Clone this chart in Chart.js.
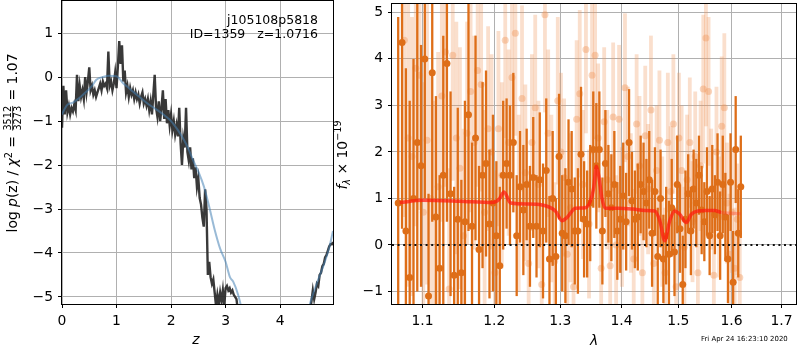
<!DOCTYPE html>
<html>
<head>
<meta charset="utf-8">
<script src="https://cdn.jsdelivr.net/npm/chart.js@4.4.0/dist/chart.umd.min.js"></script>
<style>
html, body { margin: 0; padding: 0; background: #fff; }
#wrap { position: relative; width: 800px; height: 350px; }
#pz { position: absolute; left: 0; top: 0; }
#spec { position: absolute; left: 334px; top: 0; }
</style>
</head>
<body>
<div id="wrap">
<canvas id="pz" width="340" height="350"></canvas>
<canvas id="spec" width="466" height="350"></canvas>
</div>
<script>
// ---- left panel: log p(z) ----
var zGrid = [
	0, 0.025, 0.05, 0.075, 0.1, 0.125, 0.15, 0.175, 0.2, 0.225,
	0.25, 0.275, 0.3, 0.325, 0.35, 0.375, 0.4, 0.425, 0.45, 0.475,
	0.5, 0.525, 0.55, 0.575, 0.6, 0.625, 0.65, 0.675, 0.7, 0.725,
	0.75, 0.775, 0.8, 0.825, 0.85, 0.875, 0.9, 0.925, 0.95, 0.975,
	1.0, 1.025, 1.05, 1.075, 1.1, 1.125, 1.15, 1.175, 1.2, 1.225,
	1.25, 1.275, 1.3, 1.325, 1.35, 1.375, 1.4, 1.425, 1.45, 1.475,
	1.5, 1.525, 1.55, 1.575, 1.6, 1.625, 1.65, 1.675, 1.7, 1.725,
	1.75, 1.775, 1.8, 1.825, 1.85, 1.875, 1.9, 1.925, 1.95, 1.975,
	2.0, 2.025, 2.05, 2.075, 2.1, 2.125, 2.15, 2.175, 2.2, 2.225,
	2.25, 2.275, 2.3, 2.325, 2.35, 2.375, 2.4, 2.425, 2.45, 2.475,
	2.5, 2.525, 2.55, 2.575, 2.6, 2.625, 2.65, 2.675, 2.7, 2.725,
	2.75, 2.775, 2.8, 2.825, 2.85, 2.875, 2.9, 2.925, 2.95, 2.975,
	3.0, 3.025, 3.05, 3.075, 3.1, 3.125, 3.15, 3.175, 3.2, 3.225,
	3.25, 3.5, 4.0, 4.5,
	4.55, 4.575, 4.6, 4.625, 4.65, 4.675, 4.7, 4.725, 4.75, 4.775,
	4.8, 4.825, 4.85, 4.875, 4.9, 4.925, 4.95, 4.97
];
var logpz = [
	-1.15, -0.2, -0.85, -0.3, -0.8, -0.65, -0.85, -0.7, -0.78, -0.62,
	-0.75, 0.05, -0.55, -0.2, -0.45, -0.3, -0.5, 0.0, -0.35, -0.1,
	0.22, -0.3, -0.2, -0.4, -0.3, -0.45, -0.35, -0.25, -0.15, -0.3,
	-0.1, -0.2, -0.15, -0.25, 0.58, -0.2, -0.1, -0.3, -0.15, 0.1,
	-0.25, 0.25, 0.82, 0.3, 0.72, -0.1, 0.15, -0.35, -0.2, -0.45,
	-0.25, -0.4, -0.3, -0.5, -0.35, -0.5, -0.4, -0.6, -0.45, -0.35,
	-0.6, -0.5, -0.65, -0.5, -0.75, -0.55, -0.85, -0.4, 0.05, -0.7,
	-0.9, -0.55, -1.0, -0.7, -0.3, -0.95, -0.5, -1.05, -0.75, -1.1,
	-0.85, -1.2, -1.0, -1.3, -1.1, -1.35, -0.7, -1.5, -2.0, -1.4,
	-1.6, -0.7, -1.7, -1.9, -1.6, -2.1, -1.85, -2.3, -2.05, -2.5,
	-2.3, -2.75, -2.9, -3.2, -3.4, -2.55, -3.0, -4.5, -4.2, -4.55,
	-4.7, -4.6, -4.9, -5.2, -4.95, -5.15, -4.9, -5.1, -4.85, -5.2,
	-4.8, -4.75, -4.85, -4.8, -4.9, -4.85, -4.95, -5.0, -5.05, -5.3,
	-5.8, -8, -9, -6,
	-5.3, -5.1, -4.85, -5.05, -4.9, -4.7, -4.75, -4.5, -4.45, -4.3,
	-4.25, -4.1, -4.05, -3.95, -3.85, -3.8, -3.8, -3.75
];
var zTemplate = [0, 0.05, 0.11, 0.2, 0.26, 0.35, 0.45, 0.55, 0.63, 0.75, 0.87, 1.0, 1.12, 1.2, 1.3, 1.45, 1.6, 1.75, 1.91, 2.0,
	2.1, 2.2, 2.3, 2.4, 2.5, 2.6, 2.7, 2.8, 2.9, 3.0, 3.08, 3.14, 3.23, 3.3, 3.6, 4.0, 4.3, 4.55, 4.6, 4.7, 4.8, 4.9, 4.97];
var logpzTemplate = [-0.85, -0.72, -0.62, -0.58, -0.53, -0.44, -0.33, -0.2, -0.06, 0.0, 0.03, 0.02, -0.14, -0.22, -0.33, -0.48, -0.63, -0.75, -0.9, -1.0,
	-1.16, -1.35, -1.58, -1.88, -2.15, -2.48, -2.95, -3.47, -3.9, -4.2, -4.55, -4.65, -4.95, -5.3, -7, -8, -7, -5.15, -4.95, -4.6, -4.27, -3.88, -3.5];
var zTicks = [0, 1, 2, 3, 4];
var pzTicks = [-5, -4, -3, -2, -1, 0, 1];

// ---- right panel: spectrum ----
var specWave = [
	1.068, 1.073, 1.078, 1.083, 1.088, 1.093, 1.098, 1.103, 1.108, 1.113,
	1.118, 1.123, 1.128, 1.133, 1.138, 1.143, 1.148, 1.153, 1.158, 1.163,
	1.168, 1.173, 1.178, 1.183, 1.188, 1.193, 1.198, 1.203, 1.208, 1.213,
	1.218, 1.223, 1.228, 1.233, 1.238, 1.243, 1.248, 1.253, 1.258, 1.263,
	1.268, 1.273, 1.278, 1.283, 1.288, 1.293, 1.298, 1.303, 1.308, 1.313,
	1.318, 1.323, 1.328, 1.333, 1.338, 1.343, 1.348, 1.353, 1.358, 1.363,
	1.368, 1.373, 1.378, 1.383, 1.388, 1.393, 1.398, 1.403, 1.408, 1.413,
	1.418, 1.423, 1.428, 1.433, 1.438, 1.443, 1.448, 1.453, 1.458, 1.463,
	1.468, 1.473, 1.478, 1.483, 1.488, 1.493, 1.498, 1.503, 1.508, 1.513,
	1.518, 1.523, 1.528, 1.533, 1.538, 1.543, 1.548, 1.553, 1.558, 1.563,
	1.568, 1.573, 1.578, 1.583, 1.588, 1.593, 1.598, 1.603, 1.608, 1.613,
	1.618
];
var specFlux = [
	0.9, 4.35, 0.3, -0.7, 1.0, 2.2, 1.7, 4.0, -1.1, 3.7,
	0.6, -0.5, 1.5, 3.9, 1.1, -0.65, 0.55, -0.6, 0.5, 2.8,
	0.4, 2.3, -0.1, 1.5, 1.75, 0.45, 0.9, 0.2, -0.45, 1.5,
	1.75, 1.5, 2.2, 0.2, 1.25, 0.75, 1.3, 0.4, 1.45, 0.4,
	1.4, 0.3, 1.6, -0.3, 1.0, -0.25, 1.9, 0.25, 0.2, 1.35,
	1.2, 0.3, 0.3, 1.95, 0.55, 0.45, 0.9, 2.05, 1.7, 2.05,
	0.3, 1.75, 1.1, 0.8, 1.3, 0.3, 0.55, 1.05, 0.5, 2.2,
	0.95, 0.55, 0.6, 1.3, 1.15, 0.9, 1.4, 0.25, 1.15, -0.25,
	1.0, -0.3, 0.2, -0.2, 0.8, -0.15, 1.3, 0.35, -0.85, 0.55,
	1.1, 0.3, 1.2, 0.9, 1.5, 0.75, 0.5, 1.15, 0.2, 1.2,
	0.65, 1.35, 0.2, 1.3, 0.6, -0.3, 1.35, -0.8, 2.05, 0.25,
	1.25
];
var specErr = [
	4.0, 4.0, 3.5, 3.8, 3.0, 3.2, 2.6, 3.0, 2.2, 3.2,
	2.6, 2.0, 3.0, 3.4, 2.2, 1.9, 2.4, 2.0, 2.6, 2.5,
	1.8, 2.2, 1.8, 2.0, 2.0, 1.6, 1.9, 1.6, 1.7, 1.6,
	1.4, 1.5, 1.5, 1.3, 1.2, 1.4, 1.2, 1.3, 1.3, 1.1,
	1.45, 1.45, 1.55, 1.35, 1.45, 1.25, 1.35, 1.25, 1.45, 1.35,
	1.25, 1.15, 1.35, 1.45, 1.25, 1.15, 1.25, 1.25, 1.35, 1.25,
	1.15, 1.15, 1.05, 1.15, 1.15, 1.05, 1.15, 1.15, 1.05, 1.15,
	1.05, 1.05, 1.15, 1.05, 1.05, 0.95, 1.05, 1.15, 0.95, 1.05,
	1.05, 0.95, 1.05, 1.15, 1.05, 0.95, 1.05, 0.95, 1.05, 1.05,
	0.85, 0.95, 0.85, 0.95, 0.85, 0.95, 0.85, 0.95, 0.85, 0.95,
	0.85, 1.05, 0.95, 1.05, 0.95, 0.95, 1.05, 1.1, 1.15, 0.95,
	1.1
];
var spec2Wave = [
	1.076, 1.081, 1.086, 1.091, 1.096, 1.101, 1.106, 1.111, 1.116, 1.121,
	1.126, 1.131, 1.136, 1.141, 1.146, 1.151, 1.156, 1.161, 1.166, 1.171,
	1.176, 1.181, 1.186, 1.191, 1.196, 1.201, 1.206, 1.211, 1.216, 1.221,
	1.226, 1.231, 1.236, 1.241, 1.246, 1.251, 1.256, 1.261, 1.266, 1.271,
	1.276, 1.281, 1.286, 1.291, 1.296, 1.301, 1.306, 1.311, 1.316, 1.321,
	1.326, 1.331, 1.336, 1.341, 1.346, 1.351, 1.356, 1.361, 1.366, 1.371,
	1.376, 1.381, 1.386, 1.391, 1.396, 1.401, 1.406, 1.411, 1.416, 1.421,
	1.426, 1.431, 1.436, 1.441, 1.446, 1.451, 1.456, 1.461, 1.466, 1.471,
	1.476, 1.481, 1.486, 1.491, 1.496, 1.501, 1.506, 1.511, 1.516, 1.521,
	1.526, 1.531, 1.536, 1.541, 1.546, 1.551, 1.556, 1.561, 1.566, 1.571,
	1.576, 1.581, 1.586, 1.591, 1.596, 1.601, 1.606, 1.611, 1.616
];
var spec2Flux = [
	4.4, 2.3, 1.9, 3.8, 3.65, 0.7, 2.25, 1.0, 0.6, 1.25,
	3.2, 4.15, -0.95, 4.08, 2.3, 1.65, 0.2, 2.4, 3.3, 2.2,
	3.75, 3.45, 0.7, 2.5, 2.0, -0.6, 2.5, 1.5, 4.4, 2.2,
	3.6, 4.55, 0.9, 3.15, 1.55, -0.4, 2.2, 2.95, 1.3, -0.85,
	4.95, 2.4, 1.0, -0.35, 3.1, 2.0, 1.45, -0.2, 0.8, -0.9,
	2.7, 3.25, 1.3, 4.2, 0.45, 3.65, 4.08, 2.3, -0.5, 2.65,
	1.4, -0.45, 2.75, 0.0, 2.7, 0.6, 3.38, 1.9, 0.9, -0.3,
	2.6, 1.7, -0.6, 2.35, 1.2, 2.9, -0.4, 1.6, 2.25, 0.5,
	-0.6, 2.2, 1.15, 2.6, -0.9, 2.3, 1.6, -0.05, 1.4, 2.2,
	0.5, 1.9, -0.6, 1.7, 3.35, 4.45, 3.3, 1.2, -0.65, 2.0,
	0.6, 2.55, 2.95, 0.9, -0.2, 0.7, -0.5, 0.55, -0.7
];
var spec2Err = [
	3.8, 3.2, 3.0, 3.4, 2.9, 2.8, 3.1, 2.7, 2.5, 2.9,
	2.7, 2.9, 2.6, 2.7, 2.5, 2.6, 2.3, 2.4, 2.6, 2.3,
	2.5, 2.3, 2.2, 2.2, 2.1, 2.2, 2.1, 2.0, 2.1, 2.0,
	2.1, 2.2, 1.9, 2.0, 1.9, 1.8, 1.9, 2.0, 1.8, 1.7,
	2.1, 1.8, 1.8, 1.7, 1.8, 1.7, 1.7, 1.6, 1.6, 1.6,
	1.7, 1.8, 1.6, 1.8, 1.6, 1.7, 1.8, 1.6, 1.5, 1.6,
	1.5, 1.5, 1.6, 1.5, 1.6, 1.5, 1.6, 1.5, 1.5, 1.5,
	1.5, 1.5, 1.4, 1.5, 1.4, 1.6, 1.4, 1.4, 1.5, 1.4,
	1.4, 1.5, 1.4, 1.5, 1.4, 1.4, 1.4, 1.3, 1.4, 1.4,
	1.3, 1.4, 1.3, 1.4, 1.6, 1.9, 1.6, 1.3, 1.3, 1.4,
	1.3, 1.5, 1.6, 1.3, 1.3, 1.3, 1.3, 1.2, 1.2
];
var modelWave = [1.07, 1.100, 1.150, 1.197, 1.207, 1.2142, 1.2241, 1.25, 1.2716, 1.2923, 1.3026, 1.3106, 1.324, 1.3401, 1.3482, 1.3537, 1.3581, 1.3617, 1.3672,
	1.3727, 1.3947, 1.42, 1.4403, 1.4578, 1.4666, 1.4755, 1.4844, 1.4934, 1.5025, 1.5146, 1.5237, 1.536, 1.55, 1.5671, 1.5797, 1.60, 1.618];
var modelFlux = [0.91, 0.96, 0.94, 0.91, 0.98, 1.14, 0.9, 0.88, 0.86, 0.73, 0.52, 0.59, 0.79, 0.8, 0.94, 1.23, 1.69, 1.51, 1.01,
	0.79, 0.79, 0.77, 0.74, 0.73, 0.52, 0.09, 0.52, 0.73, 0.66, 0.48, 0.66, 0.73, 0.74, 0.74, 0.7, 0.68, 0.67];
var waveTicks = [1.1, 1.2, 1.3, 1.4, 1.5, 1.6, 1.7];
var fluxTicks = [-1, 0, 1, 2, 3, 4, 5];

var FONT = '"DejaVu Sans", sans-serif';
var TICK = 13.9;
var DARK = 'rgb(222,110,24)';

function pairs(xs, ys) {
	return xs.map(function(x, i) { return {x: x, y: ys[i]}; });
}
function minusFmt(v) {
	return v < 0 ? '\u2212' + (-v) : '' + v;
}
function fnt(size, italic) {
	return (italic ? 'italic ' : '') + size + 'px ' + FONT;
}

// rich text along a rotated axis label (sup/sub and a small fraction)
function drawRich(ctx, parts, x, y) {
	ctx.save();
	ctx.translate(x, y);
	ctx.rotate(-Math.PI / 2);
	ctx.fillStyle = '#000';
	ctx.textBaseline = 'alphabetic';
	ctx.textAlign = 'left';
	var total = 0;
	parts.forEach(function(p) {
		if (p.num) {
			ctx.font = fnt(p.size, false);
			p.w = Math.max(ctx.measureText(p.num).width, ctx.measureText(p.den).width) + 2;
		} else {
			ctx.font = fnt(p.size, p.it);
			p.w = ctx.measureText(p.t).width;
		}
		total += p.w;
	});
	var cx = -total / 2;
	parts.forEach(function(p) {
		if (p.num) {
			ctx.font = fnt(p.size, false);
			ctx.textAlign = 'center';
			ctx.fillText(p.num, cx + p.w / 2, -5.8);
			ctx.fillText(p.den, cx + p.w / 2, 3.6);
			ctx.fillRect(cx + 1, -4.7, p.w - 2, 0.8);
			ctx.textAlign = 'left';
		} else {
			ctx.font = fnt(p.size, p.it);
			ctx.fillText(p.t, cx, p.dy || 0);
		}
		cx += p.w;
	});
	ctx.restore();
}

function frame(ctx, a) {
	ctx.save();
	ctx.strokeStyle = '#000';
	ctx.lineWidth = 1;
	ctx.strokeRect(a.left - 0.5, a.top - 0.5, a.right - a.left + 1, a.bottom - a.top + 1);
	ctx.restore();
}

var errorBars = {
	id: 'errorBars',
	beforeDatasetDraw: function(chart, args) {
		var ds = chart.data.datasets[args.index];
		if (!ds.errors) return;
		var xs = chart.scales.x, ys = chart.scales.y, ctx = chart.ctx, a = chart.chartArea;
		ctx.save();
		ctx.beginPath();
		ctx.rect(a.left, a.top, a.right - a.left, a.bottom - a.top);
		ctx.clip();
		ctx.strokeStyle = ds.errorColor;
		ctx.lineWidth = ds.errorWidth;
		ds.data.forEach(function(p, i) {
			var px = xs.getPixelForValue(p.x);
			ctx.beginPath();
			ctx.moveTo(px, ys.getPixelForValue(p.y - ds.errors[i]));
			ctx.lineTo(px, ys.getPixelForValue(p.y + ds.errors[i]));
			ctx.stroke();
		});
		ctx.restore();
	}
};

var pzDecor = {
	id: 'pzDecor',
	afterDraw: function(chart) {
		var ctx = chart.ctx;
		frame(ctx, chart.chartArea);
		ctx.save();
		ctx.fillStyle = '#000';
		ctx.font = fnt(12.5, false);
		ctx.textAlign = 'right';
		ctx.fillText('j105108p5818', 318, 24);
		ctx.fillText('ID=1359   z=1.0716', 318, 38);
		ctx.font = fnt(TICK, true);
		ctx.textAlign = 'center';
		ctx.fillText('z', 196, 344);
		ctx.restore();
		drawRich(ctx, [
			{t: 'log ', size: TICK},
			{t: 'p', size: TICK, it: true},
			{t: '(z) / ', size: TICK},
			{t: '\u03c7', size: TICK, it: true},
			{t: '2', size: 9.7, dy: -5.5},
			{t: ' = ', size: TICK},
			{num: '3512', den: '3273', size: 9.7},
			{t: ' = 1.07', size: TICK}
		], 17, 143);
	}
};

var specDecor = {
	id: 'specDecor',
	afterDraw: function(chart) {
		var ctx = chart.ctx;
		frame(ctx, chart.chartArea);
		ctx.save();
		ctx.fillStyle = '#000';
		ctx.font = fnt(TICK, true);
		ctx.textAlign = 'center';
		ctx.fillText('\u03bb', 260, 345);
		ctx.font = fnt(6.94, false);
		ctx.textAlign = 'left';
		ctx.fillText('Fri Apr 24 16:23:10 2020', 367, 341);
		ctx.restore();
		drawRich(ctx, [
			{t: 'f', size: TICK, it: true},
			{t: '\u03bb', size: 9.7, it: true, dy: 3},
			{t: ' \u00d7 10', size: TICK},
			{t: '\u221219', size: 9.7, dy: -6}
		], 13, 155);
	}
};

function axisX(min, max, ticks, fmt, type) {
	return {
		type: type, min: min, max: max,
		afterBuildTicks: function(s) { s.ticks = ticks.map(function(v) { return {value: v}; }); },
		afterFit: function(s) { s.height = 46; s.paddingLeft = 0; s.paddingRight = 0; s.paddingTop = 0; s.paddingBottom = 0; },
		grid: {color: '#b0b0b0', lineWidth: 1, tickColor: '#000', tickLength: 4},
		border: {display: false},
		ticks: {color: '#000', font: {family: FONT, size: TICK}, padding: 5, autoSkip: false, maxRotation: 0, callback: fmt}
	};
}
function axisY(min, max, ticks, width) {
	return {
		type: 'linear', min: min, max: max,
		afterBuildTicks: function(s) { s.ticks = ticks.map(function(v) { return {value: v}; }); },
		afterFit: function(s) { s.width = width; s.paddingLeft = 0; s.paddingRight = 0; s.paddingTop = 0; s.paddingBottom = 0; },
		grid: {color: '#b0b0b0', lineWidth: 1, tickColor: '#000', tickLength: 4},
		border: {display: false},
		ticks: {color: '#000', font: {family: FONT, size: TICK}, padding: 5, autoSkip: false, callback: minusFmt}
	};
}

var pzConfig = {
	type: 'line',
	data: {
		datasets: [{
			data: pairs(zGrid, logpz),
			borderColor: 'rgba(40,40,40,0.92)',
			borderWidth: 2.4,
			pointRadius: 0,
			tension: 0,
			clip: 0,
			order: 2
		}, {
			data: pairs(zTemplate, logpzTemplate),
			borderColor: 'rgba(70,130,180,0.55)',
			borderWidth: 2,
			pointRadius: 0,
			cubicInterpolationMode: 'monotone',
			clip: 0,
			order: 1
		}]
	},
	options: {
		responsive: false,
		animation: false,
		layout: {padding: {left: 0, top: 1, right: 7, bottom: 0}},
		plugins: {legend: {display: false}, tooltip: {enabled: false}, title: {display: false}},
		scales: {
			x: axisX(0, 4.97, zTicks, function(v) { return '' + v; }, 'linear'),
			y: axisY(-5.16, 1.73, pzTicks, 62)
		}
	},
	plugins: [pzDecor]
};

var specConfig = {
	type: 'line',
	data: {
		datasets: [{
			data: pairs(spec2Wave, spec2Flux),
			errors: spec2Err,
			errorColor: 'rgba(240,150,90,0.3)',
			errorWidth: 3.8,
			showLine: false,
			pointRadius: 3.5,
			pointBorderWidth: 0,
			pointBackgroundColor: 'rgba(240,150,90,0.4)',
			clip: 0,
			order: 5
		}, {
			data: pairs(specWave, specFlux),
			errors: specErr,
			errorColor: DARK,
			errorWidth: 2.3,
			showLine: false,
			pointRadius: 3.5,
			pointBorderWidth: 0,
			pointBackgroundColor: DARK,
			clip: 0,
			order: 4
		}, {
			data: pairs(modelWave, modelFlux),
			borderColor: 'rgba(255,25,15,0.72)',
			borderWidth: 3.5,
			pointRadius: 0,
			cubicInterpolationMode: 'monotone',
			segment: {
				borderColor: function(c) { return c.p0.parsed.x >= 1.57 ? 'rgba(255,60,40,0.35)' : undefined; }
			},
			clip: 0,
			order: 3
		}, {
			data: [{x: 1.06, y: 0}, {x: 1.73, y: 0}],
			borderColor: '#111',
			borderWidth: 2,
			borderDash: [2, 3.6],
			pointRadius: 0,
			clip: 0,
			order: 2
		}]
	},
	options: {
		responsive: false,
		animation: false,
		layout: {padding: {left: 0, top: 1, right: 1, bottom: 0}},
		plugins: {legend: {display: false}, tooltip: {enabled: false}, title: {display: false}},
		scales: {
			x: axisX(1.06, 1.73, waveTicks, function(v) { return Number(v).toFixed(1); }, 'logarithmic'),
			y: axisY(-1.27, 5.18, fluxTicks, 58)
		}
	},
	plugins: [errorBars, specDecor]
};

window.onload = function() {
	window.pzChart = new Chart(document.getElementById('pz'), pzConfig);
	window.specChart = new Chart(document.getElementById('spec'), specConfig);
};
</script>
</body>
</html>
